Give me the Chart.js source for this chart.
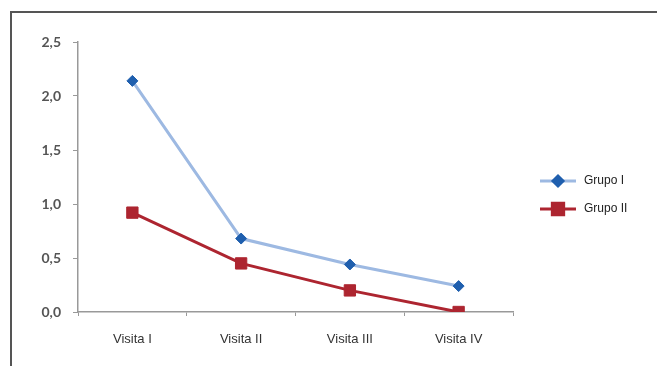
<!DOCTYPE html>
<html>
<head>
<meta charset="utf-8">
<script src="https://cdn.jsdelivr.net/npm/chart.js@4"></script>
<style>
  html, body { margin: 0; padding: 0; background: #fff; }
  #wrap { position: relative; width: 657px; height: 366px; overflow: hidden; }
  #frame { position: absolute; left: 10px; top: 11px; width: 700px; height: 400px;
           border-top: 2px solid #555; border-left: 2px solid #555; }
  canvas { position: absolute; left: 0; top: 0; }
</style>
</head>
<body>
<div id="wrap">
  <div id="frame"></div>
  <canvas id="visitChart" width="657" height="366"></canvas>
</div>
<script>
// chart data
const visitas = ['Visita I', 'Visita II', 'Visita III', 'Visita IV'];
const grupoI = [2.14, 0.68, 0.44, 0.24];
const grupoII = [0.92, 0.45, 0.20, 0.0];
const yTicks = [0, 0.5, 1.0, 1.5, 2.0, 2.5];

const blueLine = '#9db9e2';
const blueMark = '#1f5fae';
const redLine = '#ad2530';

// legend drawn at the right side, line + marker like the original
const sideLegend = {
  id: 'sideLegend',
  afterDraw(chart) {
    const ctx = chart.ctx;
    const items = [
      { label: 'Grupo I', line: blueLine, mark: blueMark, style: 'rectRot', r: 5, y: 181 },
      { label: 'Grupo II', line: redLine, mark: redLine, style: 'rect', r: 8, y: 209 },
    ];
    ctx.save();
    items.forEach((it) => {
      ctx.strokeStyle = it.line;
      ctx.lineWidth = 3;
      ctx.beginPath();
      ctx.moveTo(540, it.y);
      ctx.lineTo(576, it.y);
      ctx.stroke();
      ctx.fillStyle = it.mark;
      ctx.strokeStyle = it.mark;
      Chart.helpers.drawPoint(ctx, { pointStyle: it.style, radius: it.r, borderWidth: 1 }, 558, it.y);
      ctx.fillStyle = '#222';
      ctx.font = '12px "Liberation Sans", Arial, sans-serif';
      ctx.textBaseline = 'middle';
      ctx.fillText(it.label, 584, it.y);
    });
    ctx.restore();
  },
};

const ctx = document.getElementById('visitChart').getContext('2d');
new Chart(ctx, {
  type: 'line',
  data: {
    labels: visitas,
    datasets: [
      {
        label: 'Grupo I',
        data: grupoI,
        borderColor: blueLine,
        borderWidth: 3,
        pointStyle: 'rectRot',
        pointRadius: 5.5,
        pointBackgroundColor: blueMark,
        pointBorderColor: blueMark,
        pointBorderWidth: 1,
        tension: 0,
      },
      {
        label: 'Grupo II',
        data: grupoII,
        borderColor: redLine,
        borderWidth: 3,
        pointStyle: 'rect',
        pointRadius: 8,
        pointBackgroundColor: redLine,
        pointBorderColor: redLine,
        pointBorderWidth: 1,
        tension: 0,
      },
    ],
  },
  options: {
    responsive: false,
    animation: false,
    layout: { padding: { left: 0, top: 42, right: 144, bottom: 0 } },
    scales: {
      x: {
        offset: true,
        afterFit: (scale) => { scale.height = 54; },
        border: { color: '#999', width: 1.5 },
        grid: { display: true, drawOnChartArea: false, offset: true, tickLength: 4, color: '#999' },
        ticks: {
          padding: 16,
          color: '#333',
          font: { family: '"Liberation Sans", Arial, sans-serif', size: 13 },
        },
      },
      y: {
        min: 0,
        max: 2.5,
        afterFit: (scale) => { scale.width = 78; },
        afterBuildTicks: (scale) => { scale.ticks = yTicks.map((v) => ({ value: v })); },
        border: { color: '#999', width: 1.5 },
        grid: { display: true, drawOnChartArea: false, tickLength: 5, color: '#999' },
        ticks: {
          padding: 12,
          color: '#555',
          font: { family: 'Lato, sans-serif', size: 14, weight: 'bold' },
          callback: (v) => v.toFixed(1).replace('.', ','),
        },
      },
    },
    plugins: {
      legend: { display: false },
      tooltip: { enabled: false },
    },
  },
  plugins: [sideLegend],
});
</script>
</body>
</html>
